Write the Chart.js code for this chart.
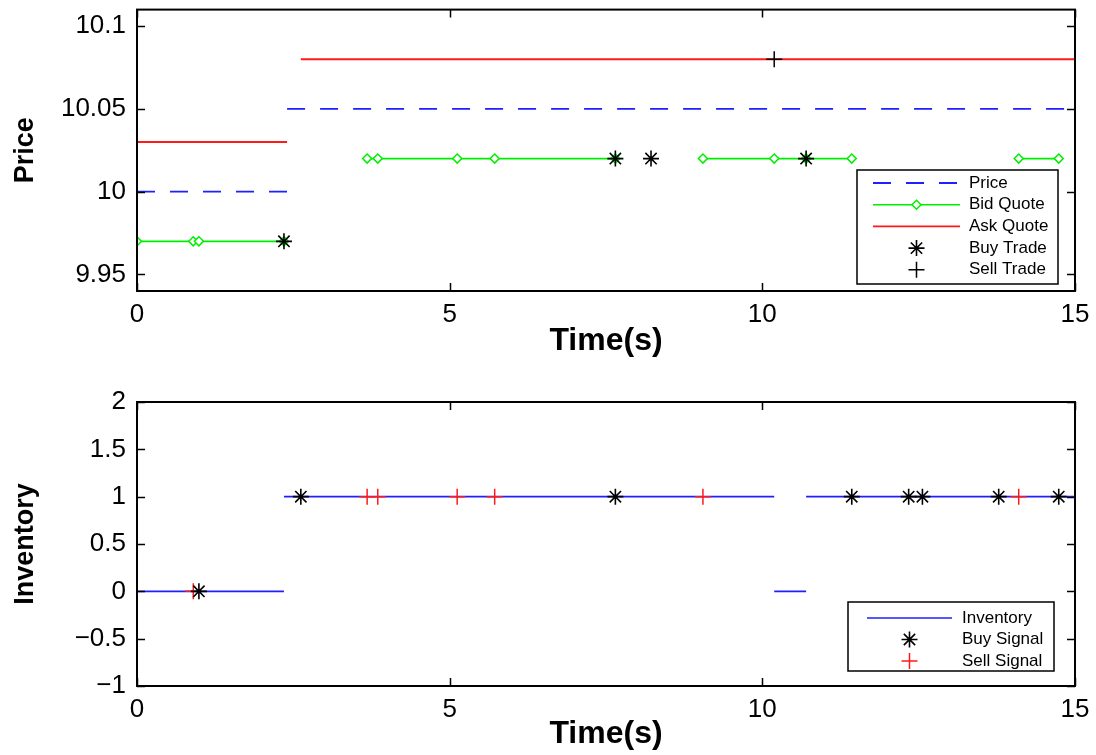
<!DOCTYPE html>
<html>
<head>
<meta charset="utf-8">
<script src="https://cdn.jsdelivr.net/npm/chart.js@4"></script>
<style>
  body { margin: 0; background: #fff; }
  canvas { position: absolute; left: 0; }
  #topChart { top: 0; }
  #bottomChart { top: 378px; }
</style>
</head>
<body>
<canvas id="topChart" width="1096" height="378"></canvas>
<canvas id="bottomChart" width="1096" height="377"></canvas>
<script>
// tick labels
const timeTicks = [0, 5, 10, 15];
const priceTicks = [9.95, 10, 10.05, 10.1];
const invTicks = [-1, -0.5, 0, 0.5, 1, 1.5, 2];

// upper panel (null = break in the line)
const priceT = [0, 2.4, 2.4, 2.4, 15];
const priceP = [10, 10, null, 10.05, 10.05];

const bidT = [0, 0.9, 0.99, 2.35, 3.0, 3.68, 3.85, 5.12, 5.72, 7.65, 8.5, 9.05, 10.19, 10.7, 11.43, 12.5, 14.1, 14.74];
const bidP = [9.97, 9.97, 9.97, 9.97, null, 10.02, 10.02, 10.02, 10.02, 10.02, null, 10.02, 10.02, 10.02, 10.02, null, 10.02, 10.02];

const askT = [0, 2.4, 2.5, 2.62, 15];
const askP = [10.03, 10.03, null, 10.08, 10.08];

const buyTradeT = [2.35, 7.65, 8.22, 10.7];
const buyTradeP = [9.97, 10.02, 10.02, 10.02];

const sellTradeT = [10.19];
const sellTradeP = [10.08];

// lower panel
const invT = [0, 2.35, 2.35, 2.35, 10.19, 10.19, 10.19, 10.7, 10.7, 10.7, 15];
const invQ = [0, 0, null, 1, 1, null, 0, 0, null, 1, 1];

const buySigT = [0.99, 2.62, 7.65, 11.43, 12.34, 12.56, 13.78, 14.74];
const buySigQ = [0, 1, 1, 1, 1, 1, 1, 1];

const sellSigT = [0.9, 3.68, 3.85, 5.12, 5.72, 9.05, 14.1];
const sellSigQ = [0, 1, 1, 1, 1, 1, 1];

const FONT = "'Liberation Sans', Arial, Helvetica, sans-serif";

function pts(ts, vs) {
    return ts.map((t, i) => ({ x: t, y: vs[i] }));
}

function fmt(v) {
    return (v < 0 ? '\u2212' : '') + Math.abs(v);
}

// matlab style box, inward ticks and legend
const matlabAxes = {
    id: 'matlabAxes',
    afterDraw(chart, args, opts) {
        const ctx = chart.ctx;
        const a = chart.chartArea;
        const xs = chart.scales.x, ys = chart.scales.y;
        ctx.save();
        ctx.strokeStyle = '#000';
        ctx.lineWidth = 1.5;
        ctx.beginPath();
        xs.ticks.forEach(t => {
            const p = Math.round(xs.getPixelForValue(t.value)) + 0.5;
            ctx.moveTo(p, a.bottom); ctx.lineTo(p, a.bottom - 8);
            ctx.moveTo(p, a.top); ctx.lineTo(p, a.top + 8);
        });
        ys.ticks.forEach(t => {
            const p = Math.round(ys.getPixelForValue(t.value)) + 0.5;
            ctx.moveTo(a.left, p); ctx.lineTo(a.left + 8, p);
            ctx.moveTo(a.right, p); ctx.lineTo(a.right - 8, p);
        });
        ctx.stroke();
        ctx.lineWidth = 2;
        ctx.strokeRect(a.left, a.top, a.right - a.left, a.bottom - a.top);

        // legend
        const L = opts;
        ctx.fillStyle = '#fff';
        ctx.fillRect(L.left, L.top, L.right - L.left, L.bottom - L.top);
        ctx.lineWidth = 1.5;
        ctx.strokeStyle = '#000';
        ctx.strokeRect(L.left, L.top, L.right - L.left, L.bottom - L.top);
        ctx.font = '17px ' + FONT;
        ctx.textBaseline = 'middle';
        ctx.textAlign = 'left';
        chart.data.datasets.forEach((ds, i) => {
            const y = L.y0 + i * L.gap;
            if (ds.showLine !== false) {
                ctx.strokeStyle = ds.borderColor;
                ctx.lineWidth = ds.borderWidth;
                ctx.setLineDash(ds.borderDash || []);
                ctx.beginPath();
                ctx.moveTo(L.x0, y);
                ctx.lineTo(L.x1, y);
                ctx.stroke();
                ctx.setLineDash([]);
            }
            if (ds.pointRadius > 0) {
                ctx.strokeStyle = ds.pointBorderColor;
                ctx.fillStyle = ds.pointBackgroundColor || '#fff';
                ctx.lineWidth = ds.pointBorderWidth;
                Chart.helpers.drawPoint(ctx, {
                    pointStyle: ds.pointStyle, radius: ds.pointRadius,
                    rotation: 0, borderWidth: ds.pointBorderWidth
                }, (L.x0 + L.x1) / 2, y);
            }
            ctx.fillStyle = '#000';
            ctx.fillText(ds.label, L.tx, y);
        });
        ctx.restore();
    }
};

function makeOptions(cfg) {
    return {
        responsive: false,
        animation: false,
        events: [],
        layout: { padding: { top: cfg.padTop, right: 21, left: 0, bottom: 0 } },
        plugins: {
            legend: { display: false },
            tooltip: { enabled: false },
            matlabAxes: cfg.legend
        },
        scales: {
            x: {
                type: 'linear',
                min: 0,
                max: 15,
                grid: { display: false, drawTicks: false },
                border: { display: false },
                afterBuildTicks: s => { s.ticks = timeTicks.map(v => ({ value: v })); },
                afterFit: s => {
                    s.height = cfg.xHeight;
                    s.paddingLeft = 0; s.paddingRight = 0;
                },
                ticks: {
                    color: '#000', padding: 8, maxRotation: 0, autoSkip: false,
                    font: { family: FONT, size: 26 },
                    callback: fmt
                },
                title: {
                    display: true, text: 'Time(s)', color: '#000',
                    font: { family: FONT, size: 32, weight: 'bold' },
                    padding: { top: 0, bottom: cfg.titlePad }
                }
            },
            y: {
                type: 'linear',
                min: cfg.yMin,
                max: cfg.yMax,
                grid: { display: false, drawTicks: false },
                border: { display: false },
                afterBuildTicks: s => { s.ticks = cfg.yTicks.map(v => ({ value: v })); },
                afterFit: s => {
                    s.width = 137;
                    s.paddingTop = 0; s.paddingBottom = 0;
                },
                ticks: {
                    color: '#000', padding: 11, autoSkip: false,
                    font: { family: FONT, size: 26 },
                    callback: fmt
                },
                title: {
                    display: true, text: cfg.yTitle, color: '#000',
                    font: { family: FONT, size: 27, weight: 'bold' },
                    padding: { top: 9, bottom: 0 }
                }
            }
        }
    };
}

const topChart = new Chart(document.getElementById('topChart'), {
    type: 'line',
    data: {
        datasets: [
            {
                label: 'Price', data: pts(priceT, priceP),
                borderColor: '#1f1fff', borderWidth: 1.8, borderDash: [18, 15],
                pointRadius: 0, order: 5
            },
            {
                label: 'Bid Quote', data: pts(bidT, bidP),
                borderColor: '#00ee00', borderWidth: 1.6,
                pointStyle: 'rectRot', pointRadius: 4.5, pointBorderWidth: 1.5,
                pointBorderColor: '#00ee00', pointBackgroundColor: '#fff', order: 3
            },
            {
                label: 'Ask Quote', data: pts(askT, askP),
                borderColor: '#ff1a1a', borderWidth: 1.8,
                pointRadius: 0, order: 4
            },
            {
                label: 'Buy Trade', data: pts(buyTradeT, buyTradeP), showLine: false,
                pointStyle: 'star', pointRadius: 8, pointBorderWidth: 1.6,
                pointBorderColor: '#000', order: 1
            },
            {
                label: 'Sell Trade', data: pts(sellTradeT, sellTradeP), showLine: false,
                pointStyle: 'cross', pointRadius: 8, pointBorderWidth: 1.5,
                pointBorderColor: '#000', order: 2
            }
        ]
    },
    options: makeOptions({
        padTop: 5, xHeight: 87, titlePad: 18,
        yMin: 9.94, yMax: 10.11, yTicks: priceTicks, yTitle: 'Price',
        legend: { left: 857, top: 170, right: 1058, bottom: 284, y0: 183, gap: 21.7, x0: 873, x1: 960, tx: 969 }
    }),
    plugins: [matlabAxes]
});

const bottomChart = new Chart(document.getElementById('bottomChart'), {
    type: 'line',
    data: {
        datasets: [
            {
                label: 'Inventory', data: pts(invT, invQ),
                borderColor: '#1f1fff', borderWidth: 1.6,
                pointRadius: 0, order: 3
            },
            {
                label: 'Buy Signal', data: pts(buySigT, buySigQ), showLine: false,
                pointStyle: 'star', pointRadius: 8, pointBorderWidth: 1.6,
                pointBorderColor: '#000', order: 1
            },
            {
                label: 'Sell Signal', data: pts(sellSigT, sellSigQ), showLine: false,
                pointStyle: 'cross', pointRadius: 8, pointBorderWidth: 1.5,
                pointBorderColor: '#ff1a1a', order: 2
            }
        ]
    },
    options: makeOptions({
        padTop: 24, xHeight: 69, titlePad: 2,
        yMin: -1, yMax: 2, yTicks: invTicks, yTitle: 'Inventory',
        legend: { left: 848, top: 224, right: 1054, bottom: 293, y0: 240, gap: 21.5, x0: 867, x1: 952, tx: 962 }
    }),
    plugins: [matlabAxes]
});
</script>
</body>
</html>
